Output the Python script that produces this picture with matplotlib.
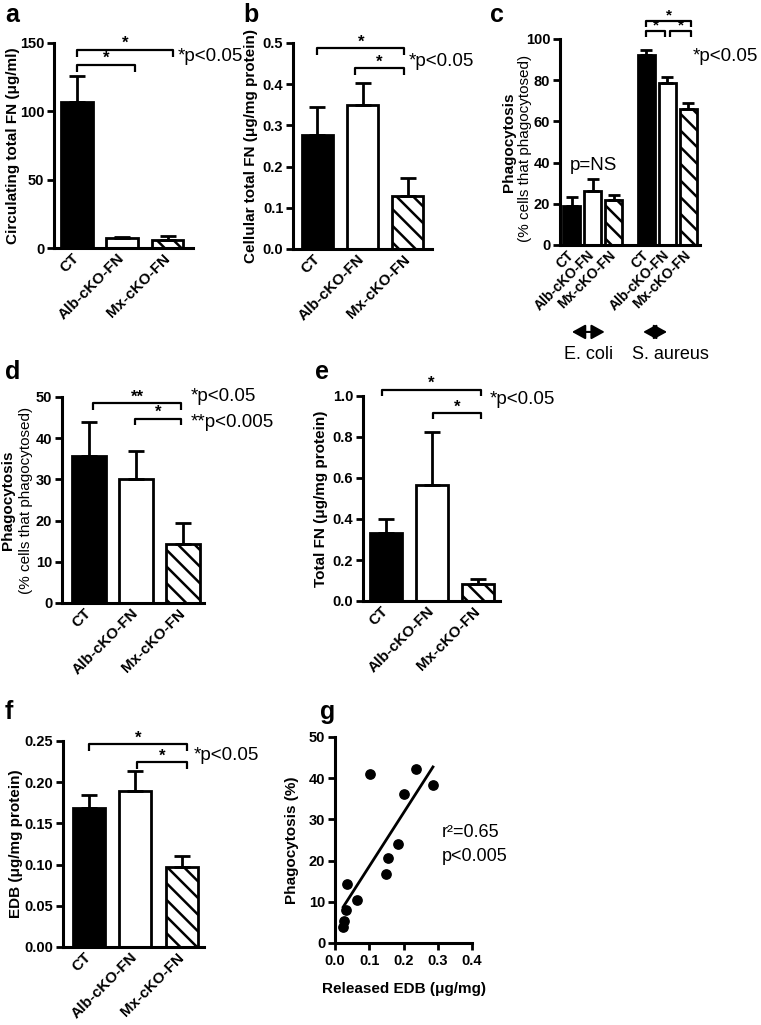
import numpy as np
import matplotlib
matplotlib.use('Agg')
import matplotlib.pyplot as plt

plt.rcParams['font.family'] = ['Liberation Sans', 'DejaVu Sans']
plt.rcParams['font.weight'] = 'bold'
plt.rcParams['hatch.linewidth'] = 1.8
plt.rcParams['axes.linewidth'] = 2.2

W, H = 761, 1025

# ---- data ----
groups = ['CT', 'Alb-cKO-FN', 'Mx-cKO-FN']

circ_fn = [107, 7, 6]                    # a, ug/ml
circ_fn_err = [19, 0.8, 2.5]

cell_fn = [0.277, 0.350, 0.129]          # b, ug/mg protein
cell_fn_err = [0.068, 0.052, 0.043]

phago_ecoli = [19, 26, 22]               # c, % cells
phago_ecoli_err = [4.5, 6, 2.5]
phago_saureus = [92, 78.5, 66]
phago_saureus_err = [2.5, 3, 3]

phago_d = [35.7, 30.0, 14.3]             # d, % cells
phago_d_err = [8.3, 6.9, 5.0]

total_fn = [0.333, 0.567, 0.081]         # e, ug/mg protein
total_fn_err = [0.067, 0.256, 0.025]

edb = [0.169, 0.189, 0.097]              # f, ug/mg protein
edb_err = [0.015, 0.024, 0.014]

# g, scatter
edb_released = [0.102, 0.237, 0.286, 0.201, 0.183, 0.155, 0.148, 0.063, 0.036, 0.031, 0.027, 0.024]
phago_pct = [41.0, 42.2, 38.4, 36.2, 24.1, 20.6, 16.7, 10.4, 14.4, 8.1, 5.3, 3.9]

bar_colors = ['black', 'white', 'white']
bar_hatches = ['', '', '\\\\']

fig = plt.figure(figsize=(W / 100, H / 100), dpi=100)


def px_axes(l, t, r, b):
    ax = fig.add_axes([l / W, 1 - b / H, (r - l) / W, (b - t) / H])
    ax.spines[['top', 'right']].set_visible(False)
    ax.tick_params(axis='y', direction='out', length=5, width=2, labelsize=10.5, pad=2)
    return ax


def bold_ticks(ax):
    for lab in ax.get_xticklabels() + ax.get_yticklabels():
        lab.set_fontweight('bold')


def bars(ax, pos, means, errs, width, cap=6):
    for p, m, e, c, h in zip(pos, means, errs, bar_colors, bar_hatches):
        ax.bar(p, m, width, color=c, edgecolor='k', linewidth=2, hatch=h, zorder=2)
        ax.errorbar(p, m, yerr=[[0], [e]], color='k', lw=2, capsize=cap,
                    capthick=2, zorder=3)


def xlabels(ax, pos, labels=groups, fs=11):
    ax.set_xticks(pos, labels, rotation=45, ha='right', va='center',
                  rotation_mode='anchor', fontsize=fs)
    ax.tick_params(axis='x', length=0, pad=6)


def ylab(ax, xpx, s, weight='bold', fs=11, yc=0.5):
    p = ax.get_position()
    ax.text((xpx / W - p.x0) / p.width, yc, s, transform=ax.transAxes, rotation=90,
            ha='center', va='center', fontsize=fs, fontweight=weight)


def bracket(ax, x1, x2, y, drop, label, fs=12):
    ax.plot([x1, x1, x2, x2], [y - drop, y, y, y - drop], color='k', lw=1.6,
            clip_on=False, solid_capstyle='butt')
    ax.annotate(label, ((x1 + x2) / 2, y), xytext=(0, -1), textcoords='offset points',
                ha='center', va='bottom', fontsize=fs, fontweight='bold',
                annotation_clip=False)


def ptext(ax, x, y, s, fs=13.5):
    ax.text(x, y, s, fontsize=fs, fontweight='normal', ha='left', va='center', clip_on=False)


pos = np.arange(3)

# ---- a ----
ax = px_axes(54, 43, 193, 248)
bars(ax, pos, circ_fn, circ_fn_err, 0.7)
ax.set_xlim(-0.5, 2.56)
ax.set_ylim(0, 150)
ax.set_yticks([0, 50, 100, 150])
xlabels(ax, pos)
ylab(ax, 13, 'Circulating total FN (\u03bcg/ml)')
bracket(ax, 0, 2.12, 145, 5, '*')
bracket(ax, 0, 1.28, 134, 5, '*')
ptext(ax, 2.22, 140, '*p<0.05')
bold_ticks(ax)

# ---- b ----
ax = px_axes(293, 43, 432, 249)
bars(ax, pos, cell_fn, cell_fn_err, 0.69)
ax.set_xlim(-0.54, 2.54)
ax.set_ylim(0, 0.5)
ax.set_yticks(np.arange(0, 0.51, 0.1), ['0.0', '0.1', '0.2', '0.3', '0.4', '0.5'])
xlabels(ax, pos)
ylab(ax, 251, 'Cellular total FN (\u03bcg/mg protein)')
bracket(ax, 0, 1.92, 0.488, 0.016, '*')
bracket(ax, 0.83, 1.92, 0.439, 0.016, '*')
ptext(ax, 2.03, 0.454, '*p<0.05')
bold_ticks(ax)

# ---- c ----
ax = px_axes(560, 39, 700, 245)
pos_ec = np.arange(3)
pos_sa = np.arange(3) + 3.57
bars(ax, pos_ec, phago_ecoli, phago_ecoli_err, 0.8, cap=4)
bars(ax, pos_sa, phago_saureus, phago_saureus_err, 0.8, cap=4)
ax.set_xlim(-0.55, 6.12)
ax.set_ylim(0, 100)
ax.set_yticks(np.arange(0, 101, 20))
xlabels(ax, np.concatenate([pos_ec, pos_sa]), groups * 2, fs=10)
ylab(ax, 509, 'Phagocytosis')
ylab(ax, 525, '(% cells that phagocytosed)', weight='normal', yc=0.47)
bracket(ax, pos_sa[0], pos_sa[2] + 0.12, 108.7, 3, '*', fs=11)
bracket(ax, pos_sa[0], pos_sa[1] - 0.12, 104, 3, '*', fs=11)
bracket(ax, pos_sa[1] + 0.12, pos_sa[2] + 0.12, 104, 3, '*', fs=11)
ptext(ax, 5.79, 91.3, '*p<0.05')
ptext(ax, -0.07, 38.8, 'p=NS')
for xc, half in [(0.8, 0.78), (3.98, 0.57)]:
    ax.annotate('', xy=(xc - half, -0.422), xytext=(xc + half, -0.422),
                xycoords=('data', 'axes fraction'), textcoords=('data', 'axes fraction'),
                arrowprops=dict(arrowstyle='<|-|>,head_length=0.4,head_width=0.22',
                                color='k', lw=1.5, mutation_scale=20,
                                shrinkA=0, shrinkB=0),
                annotation_clip=False)
ax.text(0.8, -0.53, 'E. coli', transform=ax.get_xaxis_transform(), ha='center',
        va='center', fontsize=13, fontweight='normal')
ax.text(4.69, -0.53, 'S. aureus', transform=ax.get_xaxis_transform(), ha='center',
        va='center', fontsize=13, fontweight='normal')
bold_ticks(ax)

# ---- d ----
ax = px_axes(62, 397, 204, 603)
bars(ax, pos, phago_d, phago_d_err, 0.72)
ax.set_xlim(-0.57, 2.45)
ax.set_ylim(0, 50)
ax.set_yticks(np.arange(0, 51, 10))
xlabels(ax, pos)
ylab(ax, 8, 'Phagocytosis')
ylab(ax, 26, '(% cells that phagocytosed)', weight='normal')
bracket(ax, 0.08, 1.97, 48.5, 1.6, '**')
bracket(ax, 0.98, 1.97, 44.7, 1.6, '*')
ptext(ax, 2.17, 50, '*p<0.05')
ptext(ax, 2.17, 43.9, '**p<0.005')
bold_ticks(ax)

# ---- e ----
ax = px_axes(363, 396, 500, 601)
bars(ax, pos, total_fn, total_fn_err, 0.7)
ax.set_xlim(-0.5, 2.49)
ax.set_ylim(0, 1.0)
ax.set_yticks(np.arange(0, 1.01, 0.2), ['0.0', '0.2', '0.4', '0.6', '0.8', '1.0'])
xlabels(ax, pos)
ylab(ax, 321, 'Total FN (\u03bcg/mg protein)')
bracket(ax, -0.09, 2.08, 1.03, 0.03, '*')
bracket(ax, 1.02, 2.08, 0.917, 0.03, '*')
ptext(ax, 2.26, 0.985, '*p<0.05')
bold_ticks(ax)

# ---- f ----
ax = px_axes(63, 741, 204, 947)
bars(ax, pos, edb, edb_err, 0.69)
ax.set_xlim(-0.55, 2.48)
ax.set_ylim(0, 0.25)
ax.set_yticks(np.arange(0, 0.251, 0.05), ['0.00', '0.05', '0.10', '0.15', '0.20', '0.25'])
xlabels(ax, pos)
ylab(ax, 16, 'EDB (\u03bcg/mg protein)')
bracket(ax, 0.01, 2.12, 0.246, 0.008, '*')
bracket(ax, 1.04, 2.12, 0.2245, 0.008, '*')
ptext(ax, 2.25, 0.233, '*p<0.05')
bold_ticks(ax)

# ---- g ----
ax = px_axes(335, 737, 472, 943)
ax.scatter(edb_released, phago_pct, s=45, color='k', zorder=3, clip_on=False)
slope, icpt = np.polyfit(edb_released, phago_pct, 1)
xl = np.array([min(edb_released), max(edb_released)])
ax.plot(xl, slope * xl + icpt, color='k', lw=2)
ax.set_xlim(0, 0.4)
ax.set_ylim(0, 50)
ax.set_xticks(np.arange(0, 0.41, 0.1), ['0.0', '0.1', '0.2', '0.3', '0.4'])
ax.set_yticks(np.arange(0, 51, 10))
ax.tick_params(axis='x', direction='out', length=5, width=2, labelsize=10.5, pad=3)
ax.set_xlabel('Released EDB (\u03bcg/mg)', fontsize=11, fontweight='bold', labelpad=10)
ylab(ax, 292, 'Phagocytosis (%)')
ptext(ax, 0.312, 26.7, 'r\u00b2=0.65', fs=13)
ptext(ax, 0.312, 20.9, 'p<0.005', fs=13)
bold_ticks(ax)

# ---- panel letters ----
for x, y, s in [(5, 3, 'a'), (243, 3, 'b'), (490, 3, 'c'), (5, 360, 'd'),
                (315, 360, 'e'), (5, 700, 'f'), (320, 700, 'g')]:
    fig.text(x / W, 1 - y / H, s, fontsize=18, fontweight='bold', ha='left', va='top')

fig.savefig('out.png', dpi=100)
